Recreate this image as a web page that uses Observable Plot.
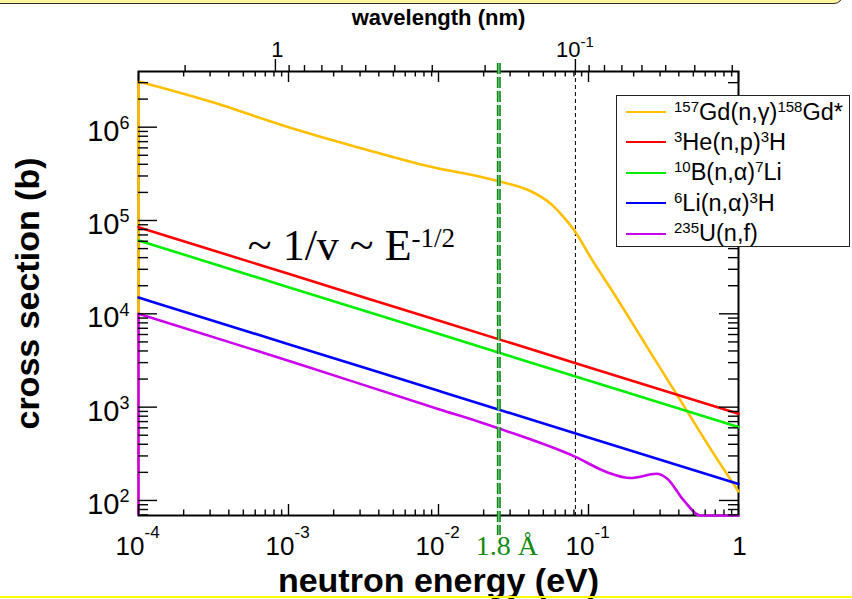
<!DOCTYPE html>
<html>
<head>
<meta charset="utf-8">
<script src="https://cdn.jsdelivr.net/npm/d3@7"></script>
<script src="https://cdn.jsdelivr.net/npm/@observablehq/plot@0.6"></script>
<style>
  html, body { margin: 0; padding: 0; background: #fff; }
  #page { position: relative; width: 852px; height: 599px; overflow: hidden;
          font-family: "Liberation Sans", Arial, Helvetica, sans-serif; }
  #chart { position: absolute; left: 0; top: 0; }
  #banner { position: absolute; left: -14px; top: -20px; width: 855px; height: 22px;
            background: #fff59d; border: 1.5px solid #2b2b2b; border-radius: 9px; }
  #footer { position: absolute; left: 0; top: 596px; width: 852px; height: 2px; background: #ffff00; }
  #legend { position: absolute; left: 616px; top: 95px; width: 232px; height: 150px;
            border: 1px solid #222; background: #fff; }
  #legend .swatch { position: absolute; left: 9px; width: 40px; height: 2px; }
  #legend .name { position: absolute; left: 57px; font-size: 23.5px; line-height: 24px; white-space: nowrap; color: #000; }
  #legend sup { font-size: 15px; line-height: 0; vertical-align: 8px; }
</style>
</head>
<body>
<div id="page">
  <div id="chart"></div>
  <div id="banner"></div>
  <div id="legend"></div>
  <div id="footer"></div>
</div>
<script>
// Axis ranges (energy in eV, cross section in barns)
const energyRange = [1e-4, 1];
const sigmaRange = [69, 3.95e6];

// 157Gd(n,gamma): 1/v-like below the 0.031 eV resonance, steep fall above it
const gdEnergy = [1e-4, 3e-4, 1e-3, 3e-3, 0.01, 0.019, 0.026, 0.041, 0.056, 0.0685, 0.082, 0.103, 0.148, 0.246, 0.41, 0.684, 1];
const gdSigma  = [3.08e6, 1.88e6, 1.0e6, 6.0e5, 3.6e5, 2.95e5, 2.60e5, 2.07e5, 1.51e5, 1.08e5, 7.5e4, 4.05e4, 1.64e4, 4400, 1180, 316, 125];

// 1/v absorbers
const decadeEnergy = [1e-4, 1e-3, 1e-2, 1e-1, 1];
const heSigma = [84800, 26800, 8480, 2680, 848];
const bSigma  = [61100, 19300, 6110, 1930, 611];
const liSigma = [14950, 4730, 1495, 473, 150];

// 235U(n,f) with the 0.29 eV resonance
const uEnergy = [1e-4, 1e-3, 0.0103, 0.019, 0.0256, 0.0818, 0.133, 0.19, 0.284, 0.335, 0.432, 0.558, 1];
const uSigma  = [1.0e4, 3150, 938, 690, 586, 293, 201, 174, 193, 171, 100, 69, 69];

const seriesNames = [
  "<sup>157</sup>Gd(n,γ)<sup>158</sup>Gd*",
  "<sup>3</sup>He(n,p)<sup>3</sup>H",
  "<sup>10</sup>B(n,α)<sup>7</sup>Li",
  "<sup>6</sup>Li(n,α)<sup>3</sup>H",
  "<sup>235</sup>U(n,f)"
];
const seriesColors = ["#ffbf00", "#ff0000", "#00ee00", "#0000ff", "#cc00ee"];
const seriesEnergy = [gdEnergy, decadeEnergy, decadeEnergy, decadeEnergy, uEnergy];
const seriesSigma  = [gdSigma, heSigma, bSigma, liSigma, uSigma];
const seriesDropToFloor = [true, false, false, false, true];

// Ticks
const energyMajor = [1e-4, 1e-3, 1e-2, 1e-1, 1];
const sigmaMajor = [1e2, 1e3, 1e4, 1e5, 1e6];
const wavelengthMajor = [1, 0.1];                                      // nm
const wavelengthMinor = [2, 0.9, 0.8, 0.7, 0.6, 0.5, 0.4, 0.3, 0.2,
                         0.09, 0.08, 0.07, 0.06, 0.05, 0.04, 0.03];     // nm

// Reference wavelengths (Å): 1.8 Å thermal, 1 Å
const markerAngstrom = [1.8, 1.0];

const [xMin, xMax] = energyRange;
const [yMin, yMax] = sigmaRange;

const energyMinor = d3.range(-4, 0).flatMap(k => d3.range(2, 10).map(m => m * 10 ** k));
const sigmaMinor = d3.range(1, 7).flatMap(k => d3.range(2, 10).map(m => m * 10 ** k))
  .filter(v => v >= yMin && v <= yMax);

// neutron de Broglie relation: lambda[nm] = 0.0286 / sqrt(E[eV])
const nmToEnergy = nm => (0.0286 / nm) ** 2;

const font = "'Liberation Sans', Arial, Helvetica, sans-serif";
const serif = "'Liberation Serif', 'Times New Roman', serif";
const exponent = d => String(Math.round(Math.log10(d)));

// tick helpers built on rules anchored to the frame edges
const tickStyle = {stroke: "#000", strokeWidth: 1.4};
const ticksBottom = (vals, size) => Plot.ruleX(vals, {x: d => d, y1: yMin, y2: yMin, insetTop: -size, ...tickStyle});
const ticksTop = (vals, size) => Plot.ruleX(vals, {x: d => d, y1: yMax, y2: yMax, insetBottom: -size, ...tickStyle});
const ticksTopOut = (vals, size) => Plot.ruleX(vals, {x: d => nmToEnergy(d), y1: yMax, y2: yMax, insetTop: -size, ...tickStyle});
const ticksLeft = (vals, size) => Plot.ruleY(vals, {y: d => d, x1: xMin, x2: xMin, insetRight: -size, ...tickStyle});
const ticksRight = (vals, size) => Plot.ruleY(vals, {y: d => d, x1: xMax, x2: xMax, insetLeft: -size, ...tickStyle});

const curveMarks = seriesColors.flatMap((color, i) => {
  const rows = seriesEnergy[i].map((e, j) => ({e, s: seriesSigma[i][j]}));
  const marks = [];
  if (seriesDropToFloor[i]) {
    marks.push(Plot.ruleX([rows[0]], {x: "e", y1: yMin, y2: "s", stroke: color, strokeWidth: 2.6}));
  }
  marks.push(Plot.line(rows, {x: "e", y: "s", stroke: color, strokeWidth: 2.6, curve: "monotone-x"}));
  return marks;
});

const greenMarker = markerAngstrom.filter(a => a === 1.8);
const blackMarker = markerAngstrom.filter(a => a === 1.0);

const chart = Plot.plot({
  width: 852,
  height: 599,
  marginLeft: 138,
  marginRight: 114,
  marginTop: 71,
  marginBottom: 84,
  x: {type: "log", domain: energyRange, axis: null},
  y: {type: "log", domain: sigmaRange, axis: null},
  style: {fontFamily: font, color: "#000", background: "transparent", overflow: "visible"},
  marks: [
    Plot.frame({stroke: "#000", strokeWidth: 2}),
    Plot.ruleX(blackMarker, {x: a => nmToEnergy(a / 10), y1: yMax, y2: yMin, stroke: "#000", strokeWidth: 1, strokeDasharray: "4,3"}),
    ...curveMarks,
    Plot.ruleX(greenMarker, {x: a => nmToEnergy(a / 10), y1: yMax, y2: yMin, insetTop: -8, insetBottom: -20,
      stroke: "#0f8a0f", strokeWidth: 4, strokeDasharray: "11,3", strokeLinecap: "butt"}),
    Plot.ruleX(greenMarker, {x: a => nmToEnergy(a / 10), y1: yMax, y2: yMin, insetTop: -8, insetBottom: -20,
      stroke: "#a6e6d6", strokeWidth: 0.8}),
    Plot.text(greenMarker, {x: a => nmToEnergy(a / 10), y: yMin, text: a => `${a} Å`,
      textAnchor: "start", lineAnchor: "bottom", dx: -23, dy: 39, fontSize: 28, fontFamily: serif, fill: "#138a13"}),

    // bottom / top energy ticks (inward)
    ticksBottom(energyMajor, 11), ticksBottom(energyMinor, 5.5),
    ticksTop(energyMajor, 11), ticksTop(energyMinor, 5.5),
    // wavelength ticks (outward, top)
    ticksTopOut(wavelengthMajor, 12), ticksTopOut(wavelengthMinor, 6),
    // left / right cross-section ticks (inward)
    ticksLeft(sigmaMajor, 19), ticksLeft(sigmaMinor, 10),
    ticksRight(sigmaMajor, 19), ticksRight(sigmaMinor, 10),

    // energy tick labels
    Plot.text(energyMajor.filter(d => d < 1), {x: d => d, y: yMin, text: () => "10",
      textAnchor: "end", lineAnchor: "bottom", dx: 6, dy: 39, fontSize: 26}),
    Plot.text(energyMajor.filter(d => d < 1), {x: d => d, y: yMin, text: exponent,
      textAnchor: "start", lineAnchor: "bottom", dx: 6, dy: 22, fontSize: 17}),
    Plot.text(energyMajor.filter(d => d === 1), {x: d => d, y: yMin, text: () => "1",
      textAnchor: "middle", lineAnchor: "bottom", dx: 1, dy: 39, fontSize: 26}),

    // cross-section tick labels
    Plot.text(sigmaMajor, {y: d => d, x: xMin, text: () => "10",
      textAnchor: "end", lineAnchor: "bottom", dx: -19, dy: 13.5, fontSize: 29}),
    Plot.text(sigmaMajor, {y: d => d, x: xMin, text: exponent,
      textAnchor: "start", lineAnchor: "bottom", dx: -19, dy: 2, fontSize: 18}),

    // wavelength tick labels
    Plot.text(wavelengthMajor.filter(d => d === 1), {x: d => nmToEnergy(d), y: yMax, text: () => "1",
      textAnchor: "middle", lineAnchor: "bottom", dx: 2, dy: -15, fontSize: 22}),
    Plot.text(wavelengthMajor.filter(d => d < 1), {x: d => nmToEnergy(d), y: yMax, text: () => "10",
      textAnchor: "end", lineAnchor: "bottom", dx: 5, dy: -15, fontSize: 22}),
    Plot.text(wavelengthMajor.filter(d => d < 1), {x: d => nmToEnergy(d), y: yMax, text: exponent,
      textAnchor: "start", lineAnchor: "bottom", dx: 5, dy: -25, fontSize: 15}),

    // axis titles
    Plot.text(["neutron energy (eV)"], {frameAnchor: "bottom", text: d => d, textAnchor: "middle", lineAnchor: "bottom",
      dy: 76, fontSize: 34, fontWeight: "bold"}),
    Plot.text(["cross section (b)"], {frameAnchor: "left", text: d => d, textAnchor: "middle", lineAnchor: "bottom",
      rotate: -90, dx: -100, fontSize: 34, fontWeight: "bold"}),
    Plot.text(["wavelength (nm)"], {frameAnchor: "top", text: d => d, textAnchor: "middle", lineAnchor: "bottom",
      dy: -47, fontSize: 22, fontWeight: "bold"})
  ]
});

document.getElementById("chart").appendChild(chart);

// 1/v annotation with a superscript exponent
const xs = chart.scale("x"), ys = chart.scale("y");
const note = d3.select(chart).append("text")
  .attr("x", xs.apply(5.4e-4))
  .attr("y", ys.apply(3.73e4))
  .attr("text-anchor", "start")
  .attr("font-family", serif)
  .attr("font-size", 44)
  .attr("fill", "#000")
  .attr("xml:space", "preserve");
note.append("tspan").text("~ 1/v ~ E");
note.append("tspan").attr("dy", -13).attr("font-size", 27).text("-1/2");

// legend
const legend = d3.select("#legend");
seriesNames.forEach((name, i) => {
  legend.append("div").attr("class", "swatch")
    .style("top", `${15 + 30.4 * i}px`).style("background", seriesColors[i]);
  legend.append("div").attr("class", "name")
    .style("top", `${3.5 + 30.4 * i}px`).html(name);
});
</script>
</body>
</html>
